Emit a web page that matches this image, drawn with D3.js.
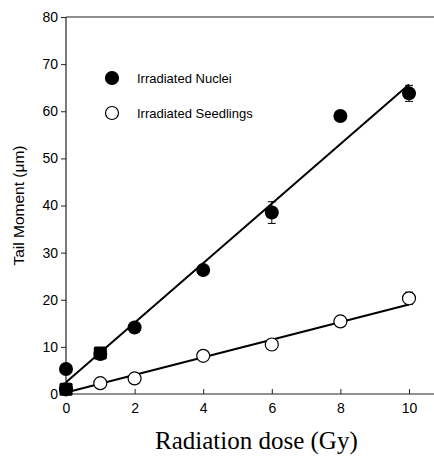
<!DOCTYPE html>
<html>
<head>
<meta charset="utf-8">
<script src="https://cdn.jsdelivr.net/npm/d3@7"></script>
<style>
  body { margin: 0; background: #fff; }
  svg { display: block; }
</style>
</head>
<body>
<div id="chart"></div>
<script>
// data
var doses = [0, 1, 2, 4, 6, 8, 10];
var nuclei = [5.3, 8.5, 14.1, 26.3, 38.5, 59.0, 63.8];
var nucleiErr = [0, 0, 0, 0, 2.3, 0, 1.7];
var seedlings = [1.0, 2.3, 3.3, 8.1, 10.5, 15.4, 20.3];
var seedlingsErr = [0, 0, 0, 0, 0, 0, 1.3];
var squareDoses = [0, 1];
var squares = [1.0, 8.7];
// fitted lines, value at dose 0 and dose 10
var fitDoses = [0, 10];
var fitNuclei = [2.5, 65.7];
var fitSeedlings = [0.3, 19.0];
var xTicks = [0, 2, 4, 6, 8, 10];
var yTicks = [0, 10, 20, 30, 40, 50, 60, 70, 80];

var svgWidth = 434, svgHeight = 459;

var svg = d3.select("#chart")
  .append("svg")
  .attr("width", svgWidth)
  .attr("height", svgHeight);

var x = d3.scaleLinear().domain([0, 10]).range([66, 409]);
var y = d3.scaleLinear().domain([0, 80]).range([394, 17]);

// frame lines (left, bottom, top)
svg.append("line").attr("x1", 66).attr("x2", 66).attr("y1", y(80)).attr("y2", y(0))
  .attr("stroke", "#222").attr("stroke-width", 1.2);
svg.append("line").attr("x1", 66).attr("x2", 434).attr("y1", y(0)).attr("y2", y(0))
  .attr("stroke", "#222").attr("stroke-width", 1.2);
svg.append("line").attr("x1", 66).attr("x2", 434).attr("y1", y(80)).attr("y2", y(80))
  .attr("stroke", "#222").attr("stroke-width", 1.2);

// y axis, ticks outside
var yAxis = svg.append("g")
  .attr("transform", "translate(66,0)")
  .call(d3.axisLeft(y).tickValues(yTicks).tickSize(5).tickPadding(3).tickFormat(d3.format("d")));
yAxis.select(".domain").remove();
yAxis.selectAll("text").attr("font-family", "Liberation Sans, Arial, sans-serif").attr("font-size", 14).attr("fill", "#000");
yAxis.selectAll("line").attr("stroke", "#222");

// x axis, ticks inside
var xAxis = svg.append("g")
  .attr("transform", "translate(0," + y(0) + ")")
  .call(d3.axisBottom(x).tickValues(xTicks).tickSizeInner(-5).tickSizeOuter(0).tickPadding(9).tickFormat(d3.format("d")));
xAxis.select(".domain").remove();
xAxis.selectAll("text").attr("font-family", "Liberation Sans, Arial, sans-serif").attr("font-size", 14).attr("fill", "#000");
xAxis.selectAll("line").attr("stroke", "#222");

// fit lines
var line = d3.line().x(d => x(d[0])).y(d => y(d[1]));
svg.append("path").datum(d3.zip(fitDoses, fitNuclei)).attr("d", line)
  .attr("fill", "none").attr("stroke", "#000").attr("stroke-width", 2);
svg.append("path").datum(d3.zip(fitDoses, fitSeedlings)).attr("d", line)
  .attr("fill", "none").attr("stroke", "#000").attr("stroke-width", 2);

// error bars
function errorBars(vals, errs) {
  var rows = doses.map((d, i) => ({ x: d, y: vals[i], e: errs[i] })).filter(r => r.e > 0);
  var g = svg.append("g").attr("stroke", "#000").attr("stroke-width", 1);
  g.selectAll(".v").data(rows).enter().append("line")
    .attr("x1", d => x(d.x)).attr("x2", d => x(d.x))
    .attr("y1", d => y(d.y - d.e)).attr("y2", d => y(d.y + d.e));
  g.selectAll(".lo").data(rows).enter().append("line")
    .attr("x1", d => x(d.x) - 4).attr("x2", d => x(d.x) + 4)
    .attr("y1", d => y(d.y - d.e)).attr("y2", d => y(d.y - d.e));
  g.selectAll(".hi").data(rows).enter().append("line")
    .attr("x1", d => x(d.x) - 4).attr("x2", d => x(d.x) + 4)
    .attr("y1", d => y(d.y + d.e)).attr("y2", d => y(d.y + d.e));
}
errorBars(nuclei, nucleiErr);
errorBars(seedlings, seedlingsErr);

// points
svg.selectAll(".seed").data(d3.zip(doses, seedlings)).enter().append("circle")
  .attr("cx", d => x(d[0])).attr("cy", d => y(d[1])).attr("r", 6.5)
  .attr("fill", "#fff").attr("stroke", "#000").attr("stroke-width", 1.2);
svg.selectAll(".nuc").data(d3.zip(doses, nuclei)).enter().append("circle")
  .attr("cx", d => x(d[0])).attr("cy", d => y(d[1])).attr("r", 7)
  .attr("fill", "#000");
svg.selectAll(".sq").data(d3.zip(squareDoses, squares)).enter().append("rect")
  .attr("x", d => x(d[0]) - 6.5).attr("y", d => y(d[1]) - 6.5)
  .attr("width", 13).attr("height", 13).attr("rx", 1.5)
  .attr("fill", "#000");

// legend
var legend = [
  { label: "Irradiated Nuclei", fill: "#000", y: 78 },
  { label: "Irradiated Seedlings", fill: "#fff", y: 113 }
];
legend.forEach(function(l) {
  svg.append("circle").attr("cx", 112).attr("cy", l.y).attr("r", 6.5)
    .attr("fill", l.fill).attr("stroke", "#000").attr("stroke-width", 1.2);
  svg.append("text").attr("x", 137).attr("y", l.y + 4.5)
    .attr("font-family", "Liberation Sans, Arial, sans-serif").attr("font-size", 13)
    .text(l.label);
});

// axis titles
svg.append("text")
  .attr("transform", "translate(24," + ((y(0) + y(80)) / 2) + ") rotate(-90)")
  .attr("text-anchor", "middle")
  .attr("font-family", "Liberation Sans, Arial, sans-serif").attr("font-size", 15.5)
  .text("Tail Moment (\u03bcm)");

svg.append("text")
  .attr("x", 155).attr("y", 449)
  .attr("font-family", "Liberation Serif, Times New Roman, serif").attr("font-size", 25)
  .text("Radiation dose (Gy)");
</script>
</body>
</html>
